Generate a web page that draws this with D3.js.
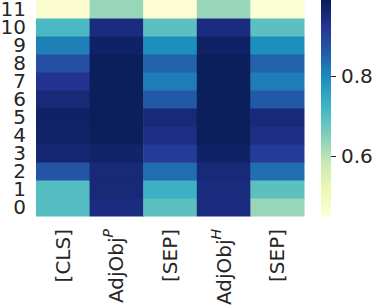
<!DOCTYPE html>
<html>
<head>
<meta charset="utf-8">
<script src="https://cdn.jsdelivr.net/npm/d3@7"></script>
<style>
  body { margin: 0; background: white; }
  text { font-family: "DejaVu Sans", sans-serif; fill: #262626; }
</style>
</head>
<body>
<div id="chart"></div>
<script>
// columns left to right, rows bottom (0) to top (11)
let columns = ['[CLS]', 'AdjObj|P', '[SEP]', 'AdjObj|H', '[SEP] ']
let layers = [0, 1, 2, 3, 4, 5, 6, 7, 8, 9, 10, 11]

// one array per column, values for layers 0..11
let clsValues = [0.70, 0.70, 0.87, 0.96, 0.97, 0.975, 0.955, 0.925, 0.88, 0.81, 0.71, 0.465]
let adjPValues = [0.945, 0.955, 0.955, 0.97, 0.985, 0.985, 0.985, 0.985, 0.985, 0.975, 0.945, 0.63]
let sepValues = [0.69, 0.73, 0.835, 0.91, 0.94, 0.955, 0.865, 0.815, 0.85, 0.79, 0.69, 0.455]
let adjHValues = [0.945, 0.95, 0.955, 0.975, 0.985, 0.985, 0.985, 0.985, 0.985, 0.975, 0.945, 0.63]
let sep2Values = [0.63, 0.69, 0.835, 0.91, 0.94, 0.955, 0.865, 0.815, 0.85, 0.79, 0.69, 0.46]

let colorTicks = [0.6, 0.8]
let vmin = 0.45
let vmax = 0.99

let allValues = [clsValues, adjPValues, sepValues, adjHValues, sep2Values]

let cells = []
columns.forEach((c, i) => {
  layers.forEach((l, j) => {
    cells.push({ col: c, layer: l, value: allValues[i][j] })
  })
})

let width = 374
let height = 308

let svg = d3
  .select('#chart')
  .append('svg')
  .attr('width', width)
  .attr('height', height)

// matplotlib-style YlGnBu, linear between the brewer stops
let brewer = ['#ffffd9', '#edf8b1', '#c7e9b4', '#7fcdbb', '#41b6c4', '#1d91c0', '#225ea8', '#253494', '#081d58']
let color = d3
  .scaleLinear()
  .domain(brewer.map((d, i) => vmin + (vmax - vmin) * i / (brewer.length - 1)))
  .range(brewer)
  .clamp(true)

let x = d3.scaleBand().domain(columns).range([36, 304])
let y = d3.scaleBand().domain(layers.slice().reverse()).range([0, 216])

svg
  .selectAll('.cell')
  .data(cells)
  .enter()
  .append('rect')
  .attr('class', 'cell')
  .attr('x', d => x(d.col))
  .attr('y', d => y(d.layer))
  .attr('width', x.bandwidth() + 0.5)
  .attr('height', y.bandwidth() + 0.5)
  .attr('fill', d => color(d.value))

// row labels
svg
  .selectAll('.row-label')
  .data(layers)
  .enter()
  .append('text')
  .attr('class', 'row-label')
  .attr('x', 26)
  .attr('y', d => y(d) + y.bandwidth() / 2)
  .attr('text-anchor', 'end')
  .attr('dominant-baseline', 'central')
  .attr('font-size', 20)
  .text(d => d)

// column labels, rotated
let colLabels = svg
  .selectAll('.col-label')
  .data(columns)
  .enter()
  .append('text')
  .attr('class', 'col-label')
  .attr('transform', d => `translate(${x(d) + x.bandwidth() / 2},229) rotate(-90)`)
  .attr('text-anchor', 'end')
  .attr('dominant-baseline', 'central')
  .attr('font-size', 20)

colLabels.each(function(d) {
  let parts = d.trim().split('|')
  let t = d3.select(this)
  t.append('tspan').text(parts[0])
  if (parts[1]) {
    t.append('tspan')
      .attr('font-size', 14)
      .attr('font-style', 'italic')
      .attr('dy', -8)
      .text(parts[1])
  }
})

// colorbar
let cbY = d3.scaleLinear().domain([vmin, vmax]).range([216, 0])
let steps = d3.range(0, 216)
svg
  .selectAll('.cb')
  .data(steps)
  .enter()
  .append('rect')
  .attr('class', 'cb')
  .attr('x', 321)
  .attr('y', d => d)
  .attr('width', 10)
  .attr('height', 1.5)
  .attr('fill', d => color(cbY.invert(d + 0.5)))

let cbAxis = svg
  .append('g')
  .attr('transform', 'translate(331,0)')
  .call(d3.axisRight(cbY).tickValues(colorTicks).tickSize(5).tickPadding(5).tickFormat(d3.format('.1f')))

cbAxis.select('.domain').remove()
cbAxis.selectAll('line').attr('stroke', '#262626').attr('stroke-width', 1)
cbAxis.selectAll('text').attr('font-size', 20).attr('font-family', 'DejaVu Sans').attr('fill', '#262626')
</script>
</body>
</html>
